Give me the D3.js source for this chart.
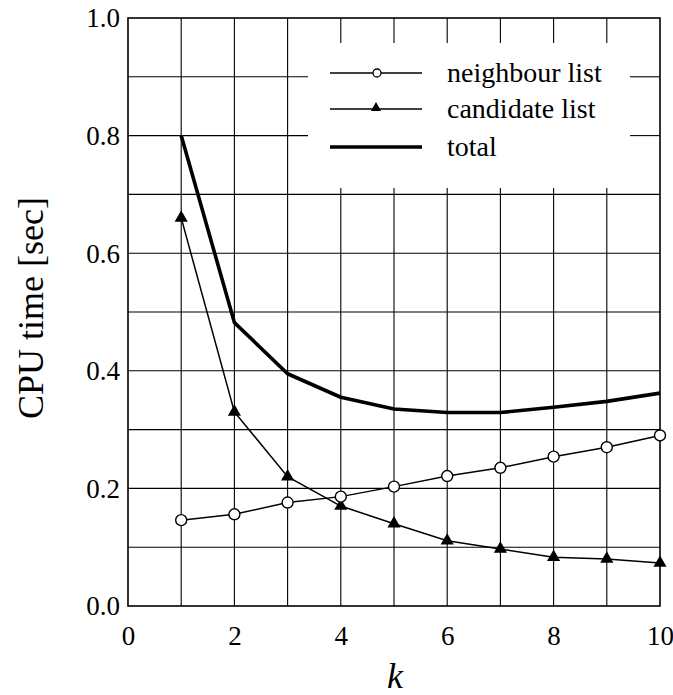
<!DOCTYPE html>
<html><head><meta charset="utf-8">
<script src="https://cdn.jsdelivr.net/npm/d3@7"></script>
</head><body style="margin:0">
<svg id="c" width="673" height="695"></svg>
<script>
const kValues = [1,2,3,4,5,6,7,8,9,10];
const neighbourList = [0.146,0.156,0.176,0.186,0.203,0.221,0.235,0.254,0.270,0.290];
const candidateList = [0.660,0.330,0.220,0.170,0.140,0.111,0.097,0.083,0.080,0.073];
const totalTime = [0.800,0.482,0.395,0.355,0.335,0.329,0.329,0.338,0.348,0.362];
const xTicks = [0,2,4,6,8,10];
const yTicks = [0.0,0.2,0.4,0.6,0.8,1.0];
const legendLabels = ["neighbour list","candidate list","total"];

const svg = d3.select("#c");
const x = d3.scaleLinear().domain([0,10]).range([128,660]);
const y = d3.scaleLinear().domain([0,1]).range([606,18]);

// grid
const g = svg.append("g").attr("stroke","#000").attr("stroke-width",1.1);
const legBox = {x0:308,x1:630,y0:43,y1:188};
d3.range(1,10).forEach(k=>{
  const px = x(k);
  if (px>legBox.x0 && px<legBox.x1){
    g.append("line").attr("x1",px).attr("x2",px).attr("y1",y(1)).attr("y2",legBox.y0);
    g.append("line").attr("x1",px).attr("x2",px).attr("y1",legBox.y1).attr("y2",y(0));
  } else g.append("line").attr("x1",px).attr("x2",px).attr("y1",y(1)).attr("y2",y(0));
});
d3.range(1,10).map(i=>i/10).forEach(v=>{
  const py = y(v);
  if (py>legBox.y0 && py<legBox.y1){
    g.append("line").attr("x1",x(0)).attr("x2",legBox.x0).attr("y1",py).attr("y2",py);
    g.append("line").attr("x1",legBox.x1).attr("x2",x(10)).attr("y1",py).attr("y2",py);
  } else g.append("line").attr("x1",x(0)).attr("x2",x(10)).attr("y1",py).attr("y2",py);
});
svg.append("rect").attr("x",x(0)).attr("y",y(1)).attr("width",x(10)-x(0)).attr("height",y(0)-y(1))
  .attr("fill","none").attr("stroke","#000").attr("stroke-width",1.6);

// axes labels via d3 axes
const xAxis = svg.append("g").attr("transform",`translate(0,${y(0)})`)
  .call(d3.axisBottom(x).tickValues(xTicks).tickSize(0).tickPadding(0).tickFormat(d3.format("d")));
xAxis.attr("font-family","Liberation Serif").attr("font-size",27);
xAxis.select(".domain").remove();
xAxis.selectAll("text").attr("font-family","Liberation Serif").attr("font-size",27).attr("y",39).attr("dy",0);
const yAxis = svg.append("g").attr("transform",`translate(${x(0)},0)`)
  .call(d3.axisLeft(y).tickValues(yTicks).tickSize(0).tickPadding(8).tickFormat(d3.format(".1f")));
yAxis.attr("font-family","Liberation Serif").attr("font-size",27);
yAxis.select(".domain").remove();
yAxis.selectAll("text").attr("font-family","Liberation Serif").attr("font-size",27).attr("dy","0.33em");

svg.append("text").attr("x",395).attr("y",688).attr("text-anchor","middle").attr("font-family","Liberation Serif")
  .attr("font-size",36).attr("font-style","italic").text("k");
svg.append("text").attr("transform","translate(43,308) rotate(-90)").attr("text-anchor","middle")
  .attr("font-family","Liberation Serif").attr("font-size",36).text("CPU time [sec]");

// series
const line = d3.line().x((d,i)=>x(kValues[i])).y(d=>y(d));
svg.append("path").datum(totalTime).attr("d",line).attr("fill","none").attr("stroke","#000").attr("stroke-width",3.6).attr("stroke-linejoin","round");
svg.append("path").datum(candidateList).attr("d",line).attr("fill","none").attr("stroke","#000").attr("stroke-width",1.5);
svg.append("path").datum(neighbourList).attr("d",line).attr("fill","none").attr("stroke","#000").attr("stroke-width",1.5);
const tri = d3.symbol().type(d3.symbolTriangle).size(75);
svg.selectAll(".tri").data(candidateList).join("path")
  .attr("transform",(d,i)=>`translate(${x(kValues[i])},${y(d)})`).attr("d",tri).attr("fill","#000");
svg.selectAll(".circ").data(neighbourList).join("circle")
  .attr("cx",(d,i)=>x(kValues[i])).attr("cy",d=>y(d)).attr("r",5.5)
  .attr("fill","#fff").attr("stroke","#000").attr("stroke-width",1.4);

// legend
const ly = [73,109,147];
const lg = svg.append("g");
legendLabels.forEach((lab,i)=>{
  lg.append("line").attr("x1",330).attr("x2",422).attr("y1",ly[i]).attr("y2",ly[i])
    .attr("stroke","#000").attr("stroke-width",i===2?3.4:1.4);
  lg.append("text").attr("x",447).attr("y",ly[i]+9).attr("font-family","Liberation Serif").attr("font-size",28).text(lab);
});
lg.append("circle").attr("cx",377).attr("cy",ly[0]).attr("r",4).attr("fill","#fff").attr("stroke","#000").attr("stroke-width",1.3);
lg.append("path").attr("transform",`translate(376,${ly[1]-1})`).attr("d",d3.symbol().type(d3.symbolTriangle).size(45)).attr("fill","#000");
</script></body></html>
